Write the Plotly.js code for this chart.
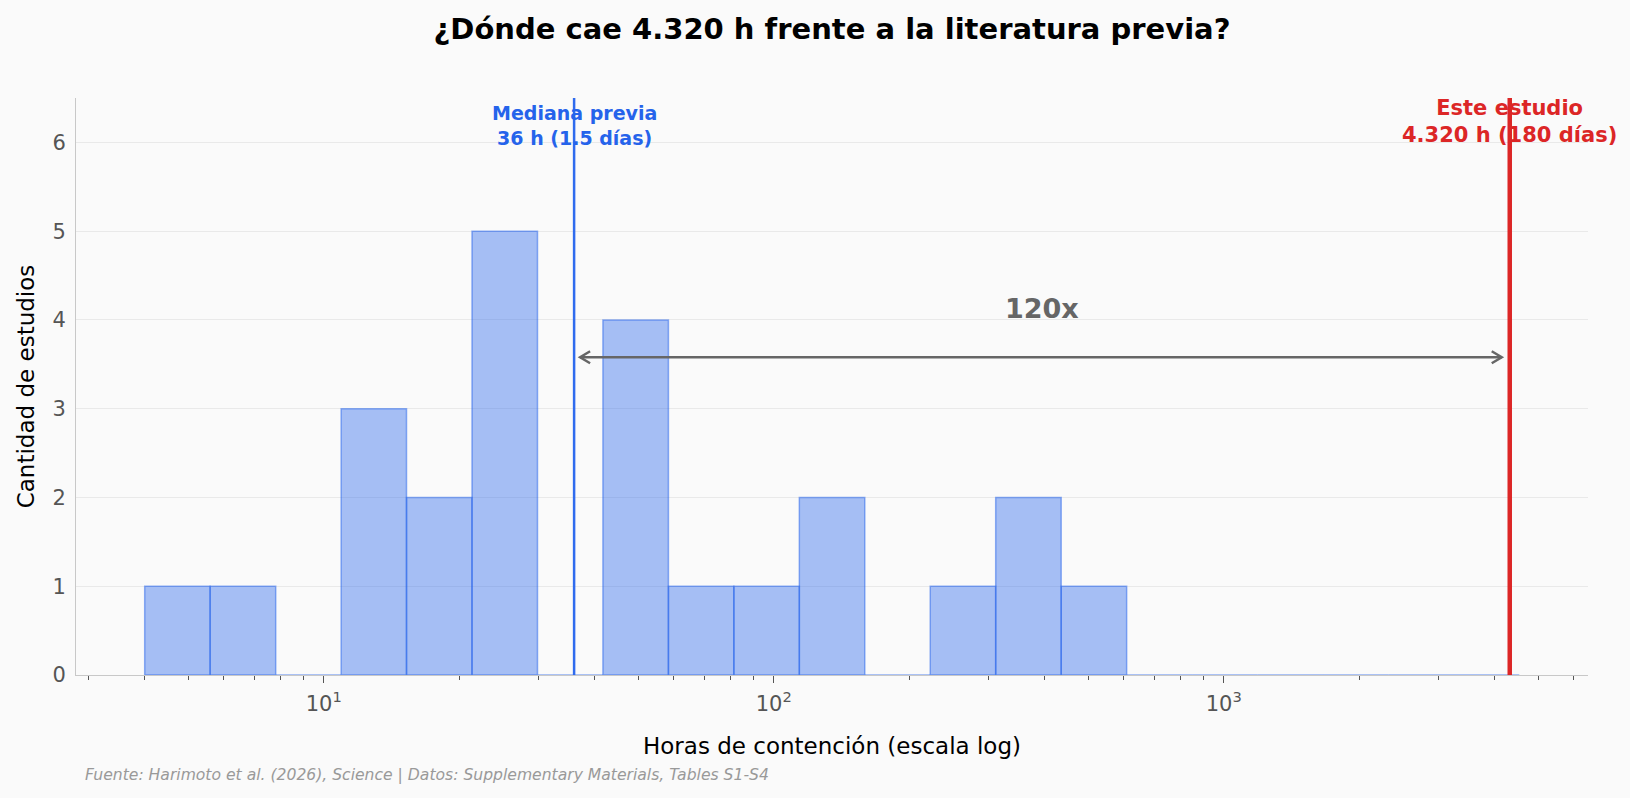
<!DOCTYPE html>
<html>
<head>
<meta charset="utf-8">
<script src="https://cdn.plot.ly/plotly-3.0.1.min.js"></script>
<style>
  html, body { margin: 0; padding: 0; background: #fafafa; }
  #chart { width: 1630px; height: 798px; }
</style>
</head>
<body>
<div id="chart"></div>
<script>
// ---- Data ----
const hoursBinEdges = [4, 5.59, 7.82, 10.93, 15.27, 21.35, 29.85, 41.72, 58.33, 81.53, 113.97,
                       159.3, 222.7, 311.3, 435.2, 608.4, 850.5, 1189, 1662, 2323, 3248, 4536];
const studyCounts   = [1, 1, 0, 3, 2, 5, 0, 4, 1, 1, 2, 0, 1, 2, 1, 0, 0, 0, 0, 0, 0];

const medianPrevHours = 36;
const thisStudyHours  = 4320;
const arrowLevel      = 3.58;
const ratioLevel      = 4.13;

const medianLabel = 'Mediana previa<br>36 h (1.5 días)';
const studyLabel  = 'Este estudio<br>4.320 h (180 días)';
const ratioLabel  = '120x';
const titleText   = '¿Dónde cae 4.320 h frente a la literatura previa?';
const xTitleText  = 'Horas de contención (escala log)';
const yTitleText  = 'Cantidad de estudios';
const sourceText  = 'Fuente: Harimoto et al. (2026), Science | Datos: Supplementary Materials, Tables S1-S4';

const xTickVals  = [10, 100, 1000];
const xTickText  = ['10<sup>1</sup>', '10<sup>2</sup>', '10<sup>3</sup>'];
const xMinorVals = [3, 4, 5, 6, 7, 8, 9,
                    20, 30, 40, 50, 60, 70, 80, 90,
                    200, 300, 400, 500, 600, 700, 800, 900,
                    2000, 3000, 4000, 5000, 6000];

// ---- Build bar geometry from bin edges ----
const barMid = [], barWidth = [];
for (let i = 0; i < studyCounts.length; i++) {
  const a = hoursBinEdges[i], b = hoursBinEdges[i + 1];
  barMid.push((a + b) / 2);
  barWidth.push(b - a);
}

const FONT = 'DejaVu Sans, Verdana, sans-serif';
const BLUE = '#2563eb';
const RED = '#dc2626';
const GREY = '#666666';

const trace = {
  type: 'bar',
  x: barMid,
  y: studyCounts,
  width: barWidth,
  marker: {
    color: 'rgba(37,99,235,0.4)',
    line: { color: 'rgba(37,99,235,0.5)', width: 1.5 }
  },
  hoverinfo: 'skip',
  showlegend: false
};

const DECADE_PX = 449.5;
const arrowStart = medianPrevHours * Math.pow(10, 6 / DECADE_PX);
const arrowEnd = thisStudyHours / Math.pow(10, 8 / DECADE_PX);

const shapes = [
  { type: 'line', xref: 'x', yref: 'y domain', x0: medianPrevHours, x1: medianPrevHours, y0: 0, y1: 1,
    line: { color: '#2f6bee', width: 2.5 } },
  { type: 'line', xref: 'x', yref: 'y domain', x0: thisStudyHours, x1: thisStudyHours, y0: 0, y1: 1,
    line: { color: RED, width: 4.5 } },
  { type: 'line', xref: 'x', yref: 'y', x0: arrowStart, x1: arrowEnd, y0: arrowLevel, y1: arrowLevel,
    line: { color: GREY, width: 2.5 } },
  { type: 'path', xref: 'x', yref: 'y', xsizemode: 'pixel', ysizemode: 'pixel',
    xanchor: arrowStart, yanchor: arrowLevel, path: 'M 10,6 L 0,0 L 10,-6',
    line: { color: GREY, width: 2.5 } },
  { type: 'path', xref: 'x', yref: 'y', xsizemode: 'pixel', ysizemode: 'pixel',
    xanchor: arrowEnd, yanchor: arrowLevel, path: 'M -10,6 L 0,0 L -10,-6',
    line: { color: GREY, width: 2.5 } }
];

const annotations = [
  { x: Math.log10(medianPrevHours), y: 6.19, xref: 'x', yref: 'y', text: medianLabel,
    showarrow: false, xanchor: 'center', yanchor: 'middle',
    font: { family: FONT, size: 19, color: BLUE, weight: 'bold' } },
  { x: Math.log10(thisStudyHours), y: 6.24, xref: 'x', yref: 'y', text: studyLabel,
    showarrow: false, xanchor: 'center', yanchor: 'middle',
    font: { family: FONT, size: 21, color: RED, weight: 'bold' } },
  { x: Math.log10(Math.sqrt(medianPrevHours * thisStudyHours)), y: ratioLevel, xref: 'x', yref: 'y',
    text: ratioLabel, showarrow: false, xanchor: 'center', yanchor: 'middle',
    font: { family: FONT, size: 27, color: GREY, weight: 'bold' } },
  { x: 0.0047, y: -0.173, xref: 'paper', yref: 'paper', text: sourceText, showarrow: false,
    xanchor: 'left', yanchor: 'middle',
    font: { family: FONT, size: 15.6, color: '#999999', style: 'italic' } }
];

const layout = {
  width: 1630,
  height: 798,
  paper_bgcolor: '#fafafa',
  plot_bgcolor: '#fafafa',
  margin: { l: 76, r: 42, t: 98, b: 123, pad: 0 },
  hovermode: false,
  bargap: 0,
  title: {
    text: titleText,
    x: 0.5, xref: 'paper', xanchor: 'center',
    y: 1 - 29 / 798, yref: 'container', yanchor: 'middle',
    font: { family: FONT, size: 29, color: '#000000', weight: 'bold' }
  },
  xaxis: {
    type: 'log',
    range: [0.4494, 3.8094],
    tickmode: 'array',
    tickvals: xTickVals,
    ticktext: xTickText,
    ticks: 'outside', ticklen: 7, tickwidth: 1, tickcolor: '#555555',
    ticklabelstandoff: 3,
    showline: true, linecolor: '#c8c8c8', linewidth: 1,
    showgrid: false, zeroline: false,
    tickfont: { family: FONT, size: 21, color: '#555555' },
    minor: { tickmode: 'array', tickvals: xMinorVals, ticks: 'outside', ticklen: 3.5,
             tickwidth: 1, tickcolor: '#555555', showgrid: false },
    title: { text: xTitleText, font: { family: FONT, size: 23, color: '#000000' }, standoff: 22 }
  },
  yaxis: {
    range: [0, 6.5],
    tickmode: 'linear', tick0: 0, dtick: 1,
    ticks: 'outside', ticklen: 5, tickcolor: 'rgba(0,0,0,0)',
    showline: true, linecolor: '#c8c8c8', linewidth: 1,
    showgrid: true, gridcolor: '#e9e9e9', gridwidth: 1,
    zeroline: false,
    tickfont: { family: FONT, size: 21, color: '#555555' },
    title: { text: yTitleText, font: { family: FONT, size: 23, color: '#000000' }, standoff: 11 }
  },
  shapes: shapes,
  annotations: annotations
};

Plotly.newPlot('chart', [trace], layout, { displayModeBar: false, staticPlot: true });
</script>
</body>
</html>
